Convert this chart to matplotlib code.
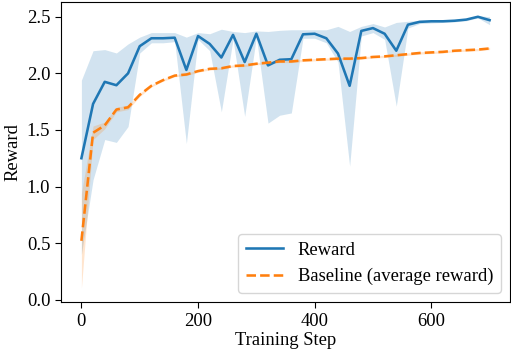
import numpy as np
import matplotlib.pyplot as plt

plt.rcParams['font.family'] = ['Liberation Serif', 'DejaVu Serif']
plt.rcParams['font.size'] = 13.4
plt.rcParams['xtick.major.size'] = 4.2
plt.rcParams['ytick.major.size'] = 4.2

steps = np.arange(0, 720, 20)

reward = [1.25, 1.73, 1.925, 1.895, 2.00, 2.24, 2.31, 2.31, 2.315, 2.03,
          2.33, 2.26, 2.14, 2.34, 2.10, 2.35, 2.07, 2.12, 2.125, 2.345,
          2.35, 2.31, 2.175, 1.89, 2.375, 2.40, 2.35, 2.20, 2.43, 2.455,
          2.46, 2.46, 2.465, 2.475, 2.50, 2.47]
reward_hi = [1.94, 2.20, 2.21, 2.18, 2.26, 2.32, 2.36, 2.36, 2.36, 2.32,
             2.36, 2.35, 2.39, 2.37, 2.36, 2.375, 2.37, 2.38, 2.385, 2.385,
             2.385, 2.385, 2.415, 2.37, 2.415, 2.44, 2.41, 2.45, 2.46, 2.47,
             2.47, 2.47, 2.475, 2.485, 2.51, 2.50]
reward_lo = [0.40, 1.06, 1.415, 1.39, 1.53, 2.18, 2.27, 2.27, 2.28, 1.38,
             2.30, 2.20, 1.66, 2.30, 1.62, 2.32, 1.56, 1.63, 1.65, 2.31,
             2.31, 2.27, 2.10, 1.18, 2.33, 2.36, 2.30, 1.71, 2.40, 2.44,
             2.445, 2.45, 2.455, 2.465, 2.49, 2.43]

baseline = [0.52, 1.475, 1.54, 1.68, 1.70, 1.81, 1.89, 1.94, 1.98, 1.99,
            2.02, 2.04, 2.045, 2.065, 2.07, 2.085, 2.095, 2.105, 2.105, 2.115,
            2.12, 2.125, 2.13, 2.13, 2.135, 2.145, 2.15, 2.16, 2.17, 2.18,
            2.185, 2.19, 2.20, 2.205, 2.21, 2.22]
baseline_err = [0.42, 0.06, 0.03, 0.02, 0.02, 0.015, 0.01, 0.01, 0.01, 0.01,
                0.01, 0.01, 0.01, 0.01, 0.01, 0.01, 0.01, 0.01, 0.01, 0.01,
                0.01, 0.01, 0.01, 0.01, 0.01, 0.01, 0.01, 0.01, 0.01, 0.01,
                0.01, 0.01, 0.01, 0.01, 0.01, 0.01]

fig = plt.figure(figsize=(5.11, 3.51), dpi=100)
ax = fig.add_axes([61/511, 49/351, 449/511, 300/351])

b = np.array(baseline)
be = np.array(baseline_err)
ax.plot(steps, reward, color='tab:blue', linewidth=1.85, label='Reward')
ax.fill_between(steps, reward_lo, reward_hi, color='tab:blue', alpha=0.2, linewidth=0)
ax.plot(steps, baseline, color='tab:orange', linestyle='--', linewidth=1.85,
        label='Baseline (average reward)')
ax.fill_between(steps, b - be, b + be, color='tab:orange', alpha=0.2, linewidth=0)

ax.set_xlabel('Training Step', labelpad=2)
ax.set_ylabel('Reward')
ax.set_xticks([0, 200, 400, 600])
ax.set_yticks([0.0, 0.5, 1.0, 1.5, 2.0, 2.5])
ax.legend(loc='lower right')

fig.savefig('out.png', dpi=100)
